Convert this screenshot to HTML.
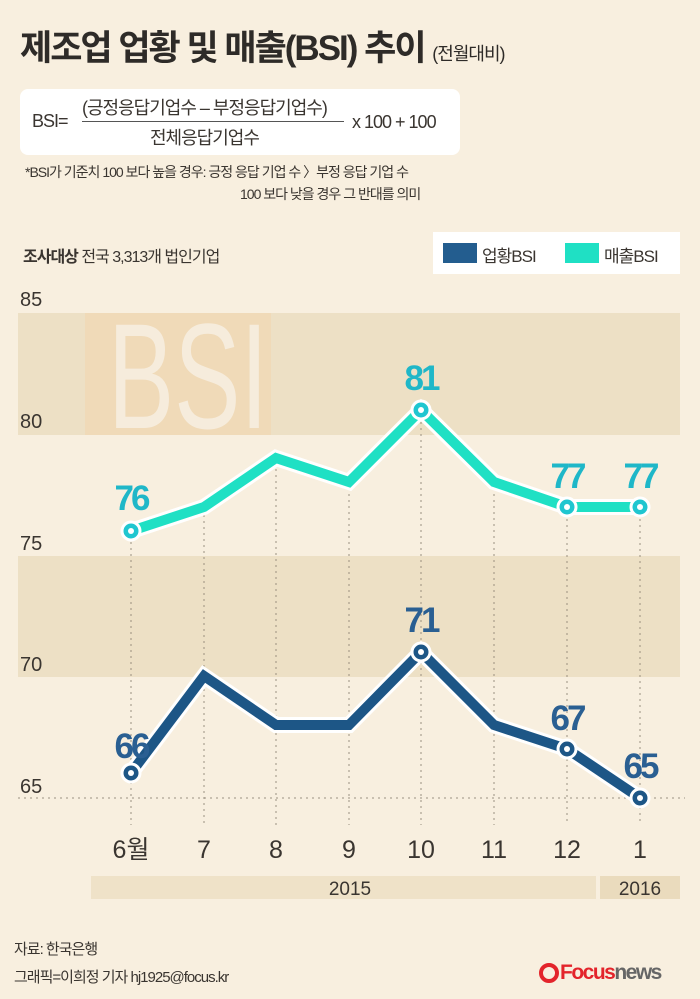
<!DOCTYPE html>
<html><head><meta charset="utf-8"><style>
body{margin:0;width:700px;height:999px;background:#f8efdf;font-family:"Liberation Sans","Noto Sans CJK KR",sans-serif;position:relative;overflow:hidden;color:#3a3530}
.a{position:absolute;white-space:nowrap}
</style></head><body>
<div class="a" style="left:20px;top:20px;font-size:35px;font-weight:bold;color:#2e2b28;letter-spacing:-2px">제조업 업황 및 매출(BSI) 추이 <span style="font-size:18px;font-weight:normal;letter-spacing:-1px">(전월대비)</span></div>
<div class="a" style="left:20px;top:89px;width:440px;height:66px;background:#fff;border-radius:8px"></div>
<div class="a" style="left:32px;top:111px;font-size:18px;letter-spacing:-1px">BSI=</div>
<div class="a" style="left:82px;top:94px;font-size:18px;letter-spacing:-1px">(긍정응답기업수 – 부정응답기업수)</div>
<div class="a" style="left:82px;top:121px;width:262px;height:1px;background:#555"></div>
<div class="a" style="left:150px;top:124px;font-size:18px;letter-spacing:-1px">전체응답기업수</div>
<div class="a" style="left:352px;top:112px;font-size:18px;letter-spacing:-1px">x 100 + 100</div>
<div class="a" style="left:25px;top:162px;font-size:14px;letter-spacing:-1px">*BSI가 기준치 100 보다 높을 경우: 긍정 응답 기업 수 〉부정 응답 기업 수</div>
<div class="a" style="left:240px;top:184px;font-size:14px;letter-spacing:-1px">100 보다 낮을 경우 그 반대를 의미</div>
<div class="a" style="left:23px;top:243px;font-size:16px;letter-spacing:-1px"><b>조사대상</b> 전국 3,313개 법인기업</div>
<div class="a" style="left:433px;top:232px;width:247px;height:42px;background:#fff"></div>
<div class="a" style="left:443px;top:243px;width:34px;height:20px;background:#235d8f"></div>
<div class="a" style="left:482px;top:242px;font-size:17px;letter-spacing:-1px">업황BSI</div>
<div class="a" style="left:565px;top:243px;width:34px;height:20px;background:#1fe0c4"></div>
<div class="a" style="left:604px;top:242px;font-size:17px;letter-spacing:-1px">매출BSI</div>
<svg class="a" style="left:0;top:0" width="700" height="999">
<rect x="18" y="313" width="662" height="122" fill="#ede0c5"/>
<rect x="18" y="556" width="662" height="121" fill="#ede0c5"/>
<rect x="85" y="313" width="186" height="122" fill="#f0d8b4" opacity="0.8"/>
<text x="108" y="428" font-size="150" font-family="Liberation Sans Narrow,Liberation Sans" fill="#f6ecdc" textLength="160" lengthAdjust="spacingAndGlyphs">BSI</text>
<g font-size="20" fill="#3a3530" font-family="Liberation Sans">
<text x="20" y="306">85</text><text x="20" y="428">80</text><text x="20" y="550">75</text><text x="20" y="671">70</text><text x="20" y="793">65</text></g>
<line x1="18" y1="798" x2="685" y2="798" stroke="#9a9080" stroke-dasharray="2,4"/>
<g stroke="#9a9080" stroke-dasharray="2,4">
<line x1="131" y1="530" x2="131" y2="825"/><line x1="204" y1="509" x2="204" y2="825"/><line x1="276" y1="457" x2="276" y2="825"/><line x1="349" y1="482" x2="349" y2="825"/><line x1="421" y1="410" x2="421" y2="825"/><line x1="494" y1="482" x2="494" y2="825"/><line x1="567" y1="507" x2="567" y2="825"/><line x1="640" y1="507" x2="640" y2="825"/></g>
<g fill="none" stroke-linejoin="miter">
<polyline points="131,531 204,507 276,458 349,482 421,410 494,482 567,507 640,507" stroke="#fff" stroke-width="16"/>
<polyline points="131,531 204,507 276,458 349,482 421,410 494,482 567,507 640,507" stroke="#1fe0c4" stroke-width="10"/>
<polyline points="131,773 204,676 276,725 349,725 421,652 494,725 567,749 640,798" stroke="#fff" stroke-width="16"/>
<polyline points="131,773 204,676 276,725 349,725 421,652 494,725 567,749 640,798" stroke="#1d5686" stroke-width="10"/>
</g>
<g stroke="#fff" stroke-width="3">
<circle cx="131" cy="531" r="9" fill="#1fc6d0"/><circle cx="421" cy="410" r="9" fill="#1fc6d0"/><circle cx="567" cy="507" r="9" fill="#1fc6d0"/><circle cx="640" cy="507" r="9" fill="#1fc6d0"/>
<circle cx="131" cy="773" r="9" fill="#1d5686"/><circle cx="421" cy="652" r="9" fill="#1d5686"/><circle cx="567" cy="749" r="9" fill="#1d5686"/><circle cx="640" cy="798" r="9" fill="#1d5686"/></g>
<g fill="#fff"><circle cx="131" cy="531" r="3"/><circle cx="421" cy="410" r="3"/><circle cx="567" cy="507" r="3"/><circle cx="640" cy="507" r="3"/><circle cx="131" cy="773" r="3"/><circle cx="421" cy="652" r="3"/><circle cx="567" cy="749" r="3"/><circle cx="640" cy="798" r="3"/></g>
<g font-size="35" text-anchor="middle" font-family="Liberation Sans" font-weight="bold" letter-spacing="-3">
<g fill="#1fb7c8"><text x="131" y="510">76</text><text x="421" y="390">81</text><text x="567" y="488">77</text><text x="640" y="488">77</text></g>
<g fill="#2a5f92"><text x="131" y="758">66</text><text x="421" y="632">71</text><text x="567" y="730">67</text><text x="640" y="778">65</text></g></g>
<g font-size="25" fill="#3a3530" text-anchor="middle" font-family="Liberation Sans,Noto Sans CJK KR"><text x="131" y="858">6월</text><text x="204" y="858">7</text><text x="276" y="858">8</text><text x="349" y="858">9</text><text x="421" y="858">10</text><text x="494" y="858">11</text><text x="567" y="858">12</text><text x="640" y="858">1</text></g>
<rect x="91" y="876" width="505" height="23" fill="#efe2c8"/>
<rect x="600" y="876" width="80" height="23" fill="#eadbbd"/>
<g font-size="19" fill="#3a3530" text-anchor="middle"><text x="350" y="895">2015</text><text x="640" y="895">2016</text></g>
<circle cx="549" cy="973" r="8" fill="none" stroke="#e3242b" stroke-width="4"/>
</svg>
<div class="a" style="left:560px;top:961px;font-size:21px;font-weight:bold;letter-spacing:-1.5px"><span style="color:#e3242b">Focus</span><span style="color:#666">news</span></div>
<div class="a" style="left:14px;top:938px;font-size:15px;letter-spacing:-1px">자료: 한국은행</div>
<div class="a" style="left:14px;top:966px;font-size:15px;letter-spacing:-1px">그래픽=이희정 기자 hj1925@focus.kr</div>
</body></html>
